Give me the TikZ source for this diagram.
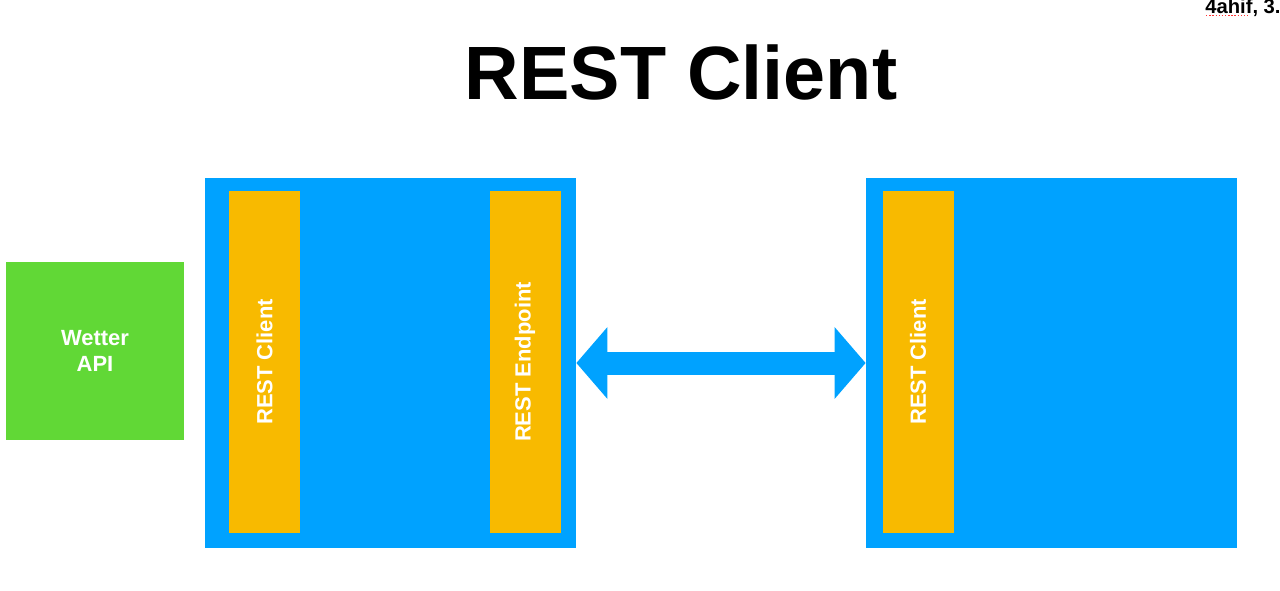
\documentclass[tikz,border=0pt]{standalone}
\usepackage{fontspec}
\setmainfont{Liberation Sans}
\usetikzlibrary{positioning,arrows.meta}
\definecolor{skyblue}{HTML}{00A2FF}
\definecolor{barorange}{HTML}{F8BA00}
\definecolor{apigreen}{HTML}{61D836}
\tikzset{
  server/.style={fill=skyblue, minimum width=7.42cm, minimum height=7.4cm, inner sep=0pt},
  bar/.style={fill=barorange, minimum width=1.42cm, minimum height=6.84cm, inner sep=0pt},
  bartext/.style={text=white, font=\fontsize{12.5}{15}\selectfont\bfseries, rotate=90},
}
\begin{document}
\begin{tikzpicture}
  \useasboundingbox (0,0) rectangle (25.6,11.8);
  \clip (0,0) rectangle (25.6,11.8);

  % title
  \node[anchor=base, font=\fontsize{43}{50}\selectfont\bfseries] (title) at (13.62,9.8) {REST Client};
  \node[anchor=base west, inner sep=0pt, font=\fontsize{11.5}{13}\selectfont\bfseries] (course) at (24.1,11.52) {4ahif, 3.};
  \draw[red!80, densely dotted, line width=0.8pt] (24.12,11.49) -- (24.95,11.49);

  % weather service
  \node[fill=apigreen, minimum size=3.56cm, inner sep=0pt, align=center,
        text=white, font=\fontsize{12.5}{15}\selectfont\bfseries] (api) at (1.9,4.78) {Wetter\\API};

  % servers
  \node[server] (backend) at (7.81,4.54) {};
  \node[server] (frontend) at (21.03,4.54) {};

  \node[bar] (client) at (5.29,4.56) {};
  \node[bartext] at (client) {REST Client};
  \node[bar] (endpoint) at (10.5,4.56) {};
  \node[bartext] at (endpoint) {REST Endpoint};
  \node[bar] (client2) at (18.36,4.56) {};
  \node[bartext] at (client2) {REST Client};

  % connection
  \draw[skyblue, line width=0.46cm,
        {Triangle[length=0.62cm, width=1.4cm]}-{Triangle[length=0.62cm, width=1.4cm]}]
        (backend.east) -- (frontend.west);
\end{tikzpicture}
\end{document}
